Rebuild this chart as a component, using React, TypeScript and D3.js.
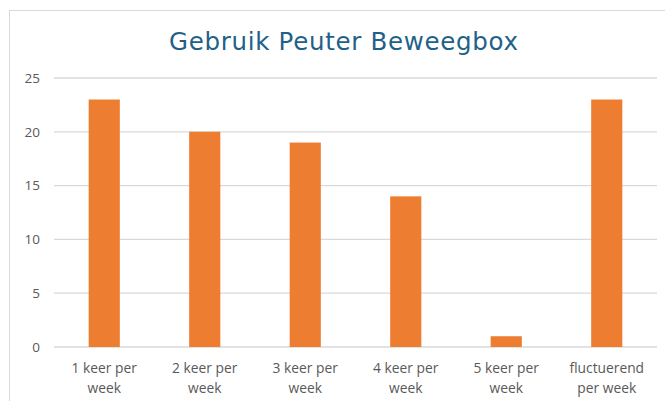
import React from "react";
import * as d3 from "d3";

const categories: string[][] = [
  ["1 keer per", "week"],
  ["2 keer per", "week"],
  ["3 keer per", "week"],
  ["4 keer per", "week"],
  ["5 keer per", "week"],
  ["fluctuerend", "per week"],
];
const values: number[] = [23, 20, 19, 14, 1, 23];
const yTicks: number[] = [0, 5, 10, 15, 20, 25];
const title = "Gebruik Peuter Beweegbox";

const W = 665;
const H = 401;
const left = 54;
const right = 657;
const top = 78;
const bottom = 347;

export default function App() {
  const x = d3
    .scaleBand<number>()
    .domain(values.map((_, i) => i))
    .range([left, right])
    .paddingInner(0.69)
    .paddingOuter(0.345);
  const y = d3.scaleLinear().domain([0, 25]).range([bottom, top]);
  const font = "'Open Sans', 'Noto Sans', sans-serif";
  return (
    <svg
      width={W}
      height={H}
      style={{ position: "absolute", left: 0, top: 0, background: "#fff" }}
    >
      <rect x={9.5} y={10.5} width={W} height={H} fill="#fff" stroke="#d9d9d9" strokeWidth={1} />
      <text
        x={343.5}
        y={50}
        textAnchor="middle"
        fontFamily="'DejaVu Sans', sans-serif"
        fontSize={24.5}
        textLength={349}
        lengthAdjust="spacing"
        fill="#1f6188"
      >
        {title}
      </text>
      {yTicks.map((t) => (
        <g key={t}>
          <line x1={left} x2={right} y1={y(t)} y2={y(t)} stroke="#d9d9d9" strokeWidth={1.3} />
          <text
            x={40}
            y={y(t)}
            dy="0.35em"
            textAnchor="end"
            fontFamily={font}
            fontSize={13.5}
            fill="#595959"
          >
            {t}
          </text>
        </g>
      ))}
      {values.map((v, i) => (
        <rect
          key={i}
          x={x(i)}
          y={y(v)}
          width={x.bandwidth()}
          height={y(0) - y(v)}
          fill="#ed7d31"
        />
      ))}
      {categories.map((lines, i) => (
        <text
          key={i}
          textAnchor="middle"
          fontFamily={font}
          fontSize={13.8}
          fill="#595959"
        >
          {lines.map((l, j) => (
            <tspan key={j} x={(x(i) ?? 0) + x.bandwidth() / 2} y={373 + j * 20}>
              {l}
            </tspan>
          ))}
        </text>
      ))}
    </svg>
  );
}
